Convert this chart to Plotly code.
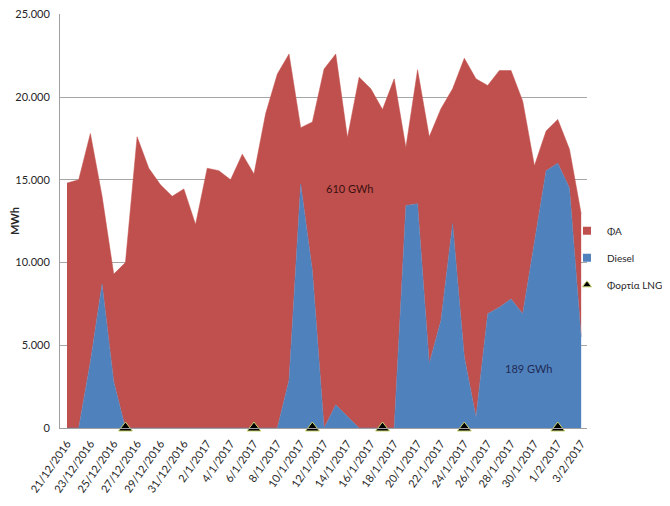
import plotly.graph_objects as go

dates = [
    "21/12/2016", "22/12/2016", "23/12/2016", "24/12/2016", "25/12/2016", "26/12/2016",
    "27/12/2016", "28/12/2016", "29/12/2016", "30/12/2016", "31/12/2016",
    "1/1/2017", "2/1/2017", "3/1/2017", "4/1/2017", "5/1/2017", "6/1/2017", "7/1/2017",
    "8/1/2017", "9/1/2017", "10/1/2017", "11/1/2017", "12/1/2017", "13/1/2017",
    "14/1/2017", "15/1/2017", "16/1/2017", "17/1/2017", "18/1/2017", "19/1/2017",
    "20/1/2017", "21/1/2017", "22/1/2017", "23/1/2017", "24/1/2017", "25/1/2017",
    "26/1/2017", "27/1/2017", "28/1/2017", "29/1/2017", "30/1/2017", "31/1/2017",
    "1/2/2017", "2/2/2017", "3/2/2017",
]

# Total daily production (top of the stack), MWh
total = [
    14800, 15000, 17800, 14000, 9300, 10000, 17600, 15700, 14700, 14000,
    14450, 12300, 15700, 15550, 15000, 16550, 15350, 19000, 21400, 22600,
    18150, 18500, 21700, 22600, 17550, 21200, 20500, 19250, 21100, 16950,
    21650, 17600, 19300, 20500, 22350, 21100, 20700, 21600, 21600, 19750,
    15850, 17950, 18650, 16850, 12950,
]

# Diesel production, MWh
diesel = [
    0, 0, 4000, 8700, 2800, 0, 0, 0, 0, 0,
    0, 0, 0, 0, 0, 0, 0, 0, 0, 2900,
    14750, 9500, 0, 1400, 700, 0, 0, 0, 0, 13450,
    13550, 3900, 6500, 12350, 4300, 650, 6900, 7300, 7800, 6900,
    11300, 15550, 16000, 14500, 5500,
]

# Heavy fuel oil (ΦΑ) = total - diesel
fa = [t - d for t, d in zip(total, diesel)]

# LNG cargo dates
lng_dates = ["26/12/2016", "6/1/2017", "11/1/2017", "17/1/2017", "24/1/2017", "1/2/2017"]
lng_vals = [0, 0, 0, 0, 0, 0]

tick_labels = dates[::2]

RED = "#C0504D"
BLUE = "#4F81BD"
FONT = "Lato"
TXT = "#262626"

fig = go.Figure()
fig.add_trace(go.Scatter(
    x=dates, y=diesel, name="Diesel", stackgroup="s", mode="lines",
    line=dict(width=0.5, color=BLUE), fillcolor=BLUE, showlegend=False,
))
fig.add_trace(go.Scatter(
    x=dates, y=fa, name="ΦΑ", stackgroup="s", mode="lines",
    line=dict(width=0.5, color=RED), fillcolor=RED, showlegend=False,
))
fig.add_trace(go.Scatter(
    x=lng_dates, y=lng_vals, name="Φορτία LNG", mode="markers",
    marker=dict(symbol="triangle-up", size=12, color="black",
                line=dict(color="#C9D46E", width=1)),
    cliponaxis=False, showlegend=False,
))

# legend entries
fig.add_trace(go.Scatter(
    x=[None], y=[None], name="ΦΑ", mode="markers",
    marker=dict(symbol="square", size=8, color=RED),
    legendgroup="a", legendrank=1,
))
fig.add_trace(go.Scatter(
    x=[None], y=[None], name="Diesel", mode="markers",
    marker=dict(symbol="square", size=8, color=BLUE),
    legendgroup="b", legendrank=2,
))
fig.add_trace(go.Scatter(
    x=[None], y=[None], name="Φορτία LNG", mode="markers",
    marker=dict(symbol="triangle-up", size=8, color="black",
                line=dict(color="#C9D46E", width=1)),
    legendgroup="c", legendrank=3,
))

fig.add_annotation(x=24.2, y=14450, text="610 GWh", showarrow=False,
                   font=dict(family=FONT, size=11, color="#3B1010"))
fig.add_annotation(x=39.5, y=3600, text="189 GWh", showarrow=False,
                   font=dict(family=FONT, size=11, color="#1F2B55"))

fig.update_layout(
    width=670, height=506,
    margin=dict(l=52, r=91, t=6, b=86),
    paper_bgcolor="white", plot_bgcolor="white",
    separators=",.",
    font=dict(family=FONT, size=11, color=TXT),
    showlegend=True,
    legend=dict(x=0.962, y=0.411, xanchor="left", yanchor="middle",
                traceorder="grouped", tracegroupgap=8, itemwidth=30,
                font=dict(family=FONT, size=10, color=TXT),
                bgcolor="rgba(0,0,0,0)"),
)
fig.update_xaxes(
    type="category", categoryorder="array", categoryarray=dates,
    range=[-0.6, 44.5], tickmode="array", tickvals=tick_labels, ticktext=tick_labels,
    tickangle=-55, showgrid=False, showline=True, linecolor="#A0A0A0",
    ticks="", automargin=False, ticklabelstandoff=4,
    tickfont=dict(family=FONT, size=11, color=TXT),
)
fig.update_yaxes(
    range=[0, 25020], tickmode="array", tickvals=[0, 5000, 10000, 15000, 20000, 25000],
    tickformat=",d", ticklabeloverflow="allow",
    showgrid=True, gridcolor="#A6A6A6", gridwidth=1,
    showline=True, linecolor="#A0A0A0", zeroline=False,
    ticks="", automargin=False, ticklabelstandoff=7,
    tickfont=dict(family=FONT, size=11, color=TXT),
    title=dict(text="<b>MWh</b>", font=dict(family=FONT, size=11, color=TXT), standoff=6),
)

fig.write_html("out.html")
